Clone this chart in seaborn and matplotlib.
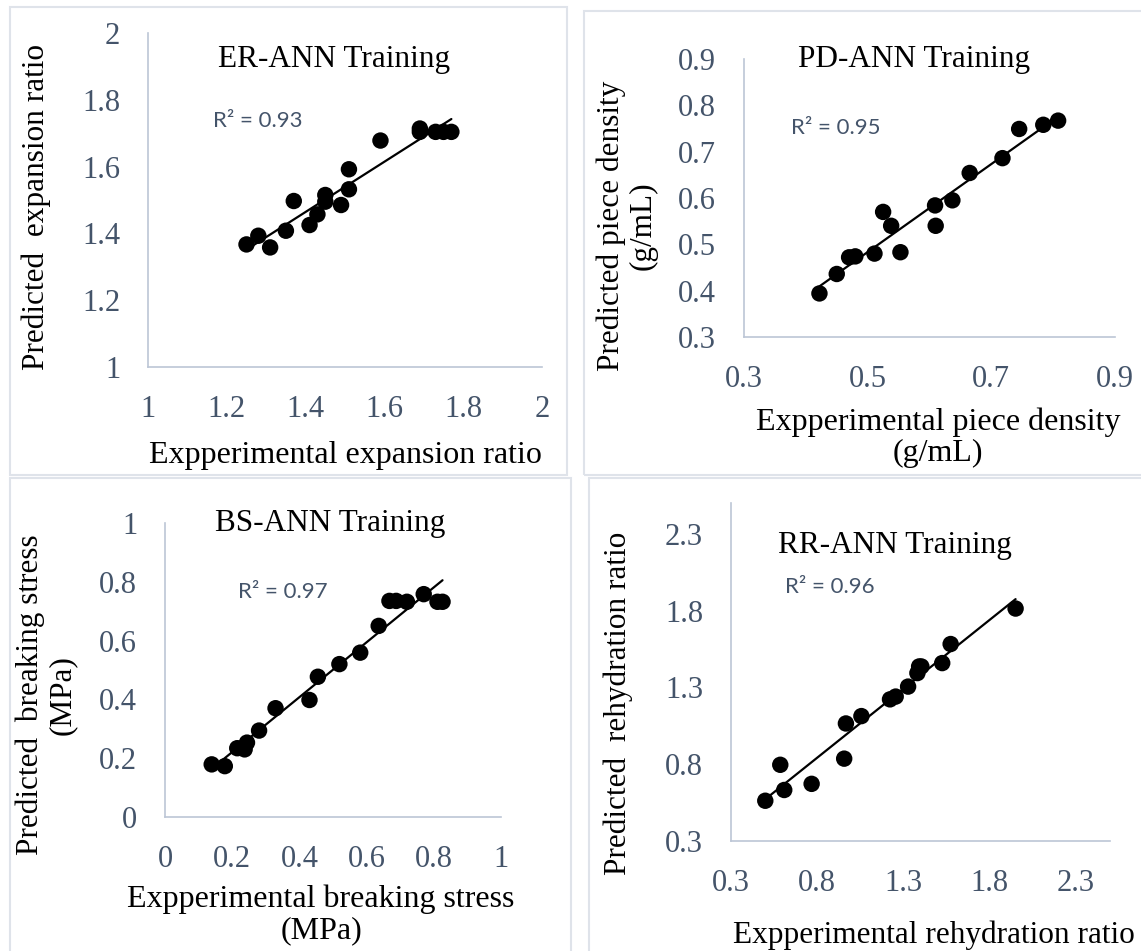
import numpy as np
import pandas as pd
import matplotlib
matplotlib.use("Agg")
import matplotlib.pyplot as plt
import seaborn as sns
from matplotlib.patches import Rectangle

# ---------------- data ----------------
er_exp = [1.25, 1.28, 1.31, 1.35, 1.37, 1.41, 1.43, 1.45, 1.45, 1.49, 1.51, 1.51, 1.59, 1.69, 1.69, 1.73, 1.75, 1.77]
er_pred = [1.367, 1.393, 1.358, 1.408, 1.497, 1.425, 1.457, 1.495, 1.515, 1.485, 1.532, 1.592, 1.678, 1.714, 1.704, 1.704, 1.704, 1.704]

pd_exp = [0.422, 0.450, 0.470, 0.480, 0.511, 0.525, 0.538, 0.553, 0.609, 0.610, 0.637, 0.665, 0.718, 0.745, 0.784, 0.808]
pd_pred = [0.394, 0.436, 0.472, 0.474, 0.480, 0.570, 0.540, 0.483, 0.584, 0.540, 0.595, 0.654, 0.686, 0.749, 0.758, 0.767]

bs_exp = [0.139, 0.178, 0.215, 0.237, 0.244, 0.280, 0.329, 0.430, 0.455, 0.519, 0.581, 0.636, 0.668, 0.688, 0.720, 0.770, 0.811, 0.826]
bs_pred = [0.179, 0.173, 0.234, 0.230, 0.253, 0.294, 0.370, 0.398, 0.477, 0.520, 0.559, 0.650, 0.735, 0.735, 0.732, 0.758, 0.732, 0.732]

rr_exp = [0.499, 0.586, 0.609, 0.768, 0.957, 0.967, 1.057, 1.223, 1.256, 1.328, 1.382, 1.392, 1.405, 1.526, 1.575, 1.952]
rr_pred = [0.562, 0.796, 0.632, 0.672, 0.836, 1.065, 1.113, 1.222, 1.240, 1.305, 1.393, 1.436, 1.436, 1.458, 1.582, 1.813]

er_ticks = [1, 1.2, 1.4, 1.6, 1.8, 2]
er_ticklabels = ["1", "1.2", "1.4", "1.6", "1.8", "2"]
pd_xticks = [0.3, 0.5, 0.7, 0.9]
pd_xticklabels = ["0.3", "0.5", "0.7", "0.9"]
pd_yticks = [0.3, 0.4, 0.5, 0.6, 0.7, 0.8, 0.9]
pd_yticklabels = ["0.3", "0.4", "0.5", "0.6", "0.7", "0.8", "0.9"]
bs_xticks = [0, 0.2, 0.4, 0.6, 0.8, 1]
bs_xticklabels = ["0", "0.2", "0.4", "0.6", "0.8", "1"]
bs_yticks = [0, 0.2, 0.4, 0.6, 0.8, 1]
bs_yticklabels = ["0", "0.2", "0.4", "0.6", "0.8", "1"]
rr_ticks = [0.3, 0.8, 1.3, 1.8, 2.3]
rr_ticklabels = ["0.3", "0.8", "1.3", "1.8", "2.3"]

titles = ["ER-ANN Training", "PD-ANN Training", "BS-ANN Training", "RR-ANN Training"]
r2_texts = ["R² = 0.93", "R² = 0.95", "R² = 0.97", "R² = 0.96"]
xlabels = ["Expperimental expansion ratio", "Expperimental piece density\n(g/mL)",
           "Expperimental breaking stress\n(MPa)", "Expperimental rehydration ratio"]
ylabels = ["Predicted  expansion ratio", "Predicted piece density\n(g/mL)",
           "Predicted  breaking stress\n(MPa)", "Predicted  rehydration ratio"]

# ---------------- style ----------------
sns.set_style("white")
SERIF = ['Liberation Serif', 'DejaVu Serif']
plt.rcParams['font.family'] = SERIF

TICK_C = '#44546a'
SPINE_C = '#bcc6d6'
BORDER_C = '#dfe3ea'

W, H = 1141, 951
fig = plt.figure(figsize=(W / 100, H / 100), dpi=100)
fig.patch.set_facecolor('white')


def fx(x):
    return x / W


def fy(y):
    return 1 - y / H


def axes_px(l, t, r, b):
    return fig.add_axes([fx(l), fy(b), (r - l) / W, (b - t) / H])


# panel frames (Excel chart areas)
for (l, t, r, b) in [(10, 7, 567, 475), (584, 11, 1160, 475), (10, 478, 571, 970), (589, 478, 1160, 970)]:
    fig.add_artist(Rectangle((fx(l), fy(b)), (r - l) / W, (b - t) / H, transform=fig.transFigure,
                             fill=False, edgecolor=BORDER_C, lw=1.5))

panels = [
    dict(box=(148, 33, 542, 367), x=er_exp, y=er_pred, xlim=(1, 2), ylim=(1, 2),
         xt=er_ticks, xtl=er_ticklabels, yt=er_ticks, ytl=er_ticklabels,
         title=(334, 60), r2=(213, 121), xl=(345, 456), yl=(36, 207)),
    dict(box=(744, 59, 1115, 337), x=pd_exp, y=pd_pred, xlim=(0.3, 0.9), ylim=(0.3, 0.9),
         xt=pd_xticks, xtl=pd_xticklabels, yt=pd_yticks, ytl=pd_yticklabels,
         title=(914, 60), r2=(791, 128), xl=(938, 438), yl=(627, 226)),
    dict(box=(165, 523, 501, 817), x=bs_exp, y=bs_pred, xlim=(0, 1), ylim=(0, 1),
         xt=bs_xticks, xtl=bs_xticklabels, yt=bs_yticks, ytl=bs_yticklabels,
         title=(330, 524), r2=(238, 592), xl=(321, 915), yl=(46, 695)),
    dict(box=(731, 503, 1110, 841), x=rr_exp, y=rr_pred, xlim=(0.3, 2.5), ylim=(0.3, 2.5),
         xt=rr_ticks, xtl=rr_ticklabels, yt=rr_ticks, ytl=rr_ticklabels,
         title=(895, 545), r2=(785, 587), xl=(934, 935), yl=(618, 703)),
]

for i, p in enumerate(panels):
    ax = axes_px(*p['box'])
    df = pd.DataFrame({'exp': p['x'], 'pred': p['y']})
    sns.regplot(data=df, x='exp', y='pred', ax=ax, ci=None, truncate=True,
                scatter_kws=dict(s=140, color='black', alpha=1, edgecolor='none', linewidths=0, zorder=2),
                line_kws=dict(color='black', lw=1.6, zorder=3))
    ax.set_xlim(*p['xlim'])
    ax.set_ylim(*p['ylim'])
    ax.set_xticks(p['xt'])
    ax.set_xticklabels(p['xtl'], fontfamily=SERIF)
    ax.set_yticks(p['yt'])
    ax.set_yticklabels(p['ytl'], fontfamily=SERIF)
    ax.set_xlabel('')
    ax.set_ylabel('')
    ax.tick_params(length=0, pad=20, labelsize=22, labelcolor=TICK_C)
    for s in ['top', 'right']:
        ax.spines[s].set_visible(False)
    for s in ['left', 'bottom']:
        ax.spines[s].set_color(SPINE_C)
        ax.spines[s].set_linewidth(1.2)
    ax.set_facecolor('none')
    ax.patch.set_alpha(0)

    tx, ty = p['title']
    fig.text(fx(tx), fy(ty), titles[i], ha='center', va='center', fontsize=22.5, color='black')
    rx, ry = p['r2']
    fig.text(fx(rx), fy(ry), r2_texts[i], ha='left', va='center', fontsize=16, color=TICK_C,
             family=['Lato', 'DejaVu Sans'])
    lx, ly = p['xl']
    fig.text(fx(lx), fy(ly), xlabels[i], ha='center', va='center', fontsize=23 if i != 3 else 22.5,
             color='black', linespacing=1.1)
    yx, yy = p['yl']
    fig.text(fx(yx), fy(yy), ylabels[i], ha='center', va='center', fontsize=22.5, color='black',
             rotation=90, linespacing=1.1)

fig.savefig('out.png', dpi=100, facecolor='white')
